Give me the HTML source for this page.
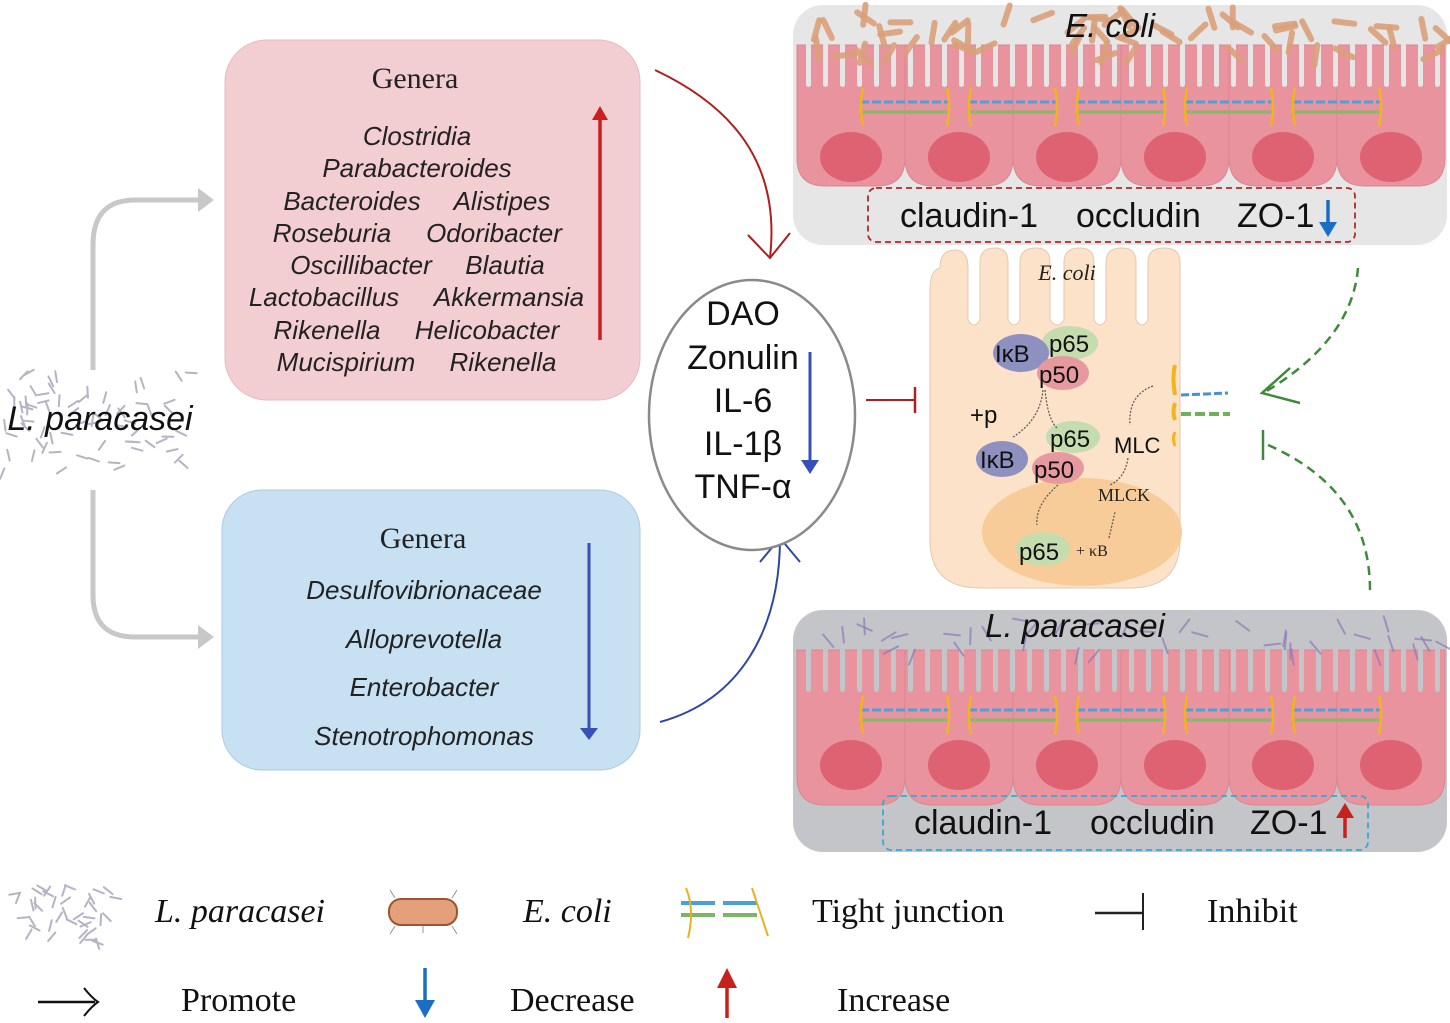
<!DOCTYPE html>
<html><head><meta charset="utf-8"><style>
html,body{margin:0;padding:0;background:#fff;}
svg{display:block;}
.s{font-family:"Liberation Sans",sans-serif;}
.r{font-family:"Liberation Serif",serif;}
</style></head><body>
<svg id="sv" width="1450" height="1023" viewBox="0 0 1450 1023" xmlns="http://www.w3.org/2000/svg">
<!-- grey arrows -->
<path d="M93,370 L93,245 Q93,200 135,200 L200,200" fill="none" stroke="#c8c8c8" stroke-width="5"/>
<path d="M198,188 L214,200 L198,212 Z" fill="#c8c8c8"/>
<path d="M93,490 L93,595 Q93,637 135,637 L200,637" fill="none" stroke="#c8c8c8" stroke-width="5"/>
<path d="M198,625 L214,637 L198,649 Z" fill="#c8c8c8"/>
<g id="lp"></g>
<text x="100" y="430" class="s" font-size="34" font-style="italic" text-anchor="middle" fill="#111">L. paracasei</text>

<!-- red box -->
<rect x="225" y="40" width="415" height="360" rx="42" fill="#f2ced3" stroke="#e7b9c0"/>
<text x="415" y="88" class="r" font-size="30" text-anchor="middle" fill="#222">Genera</text>
<g class="s" font-size="26" font-style="italic" fill="#222" text-anchor="middle">
<text x="417" y="145">Clostridia</text>
<text x="417" y="177">Parabacteroides</text>
<text x="352" y="210">Bacteroides</text><text x="502" y="210">Alistipes</text>
<text x="332" y="242">Roseburia</text><text x="494" y="242">Odoribacter</text>
<text x="361" y="274">Oscillibacter</text><text x="505" y="274">Blautia</text>
<text x="324" y="306">Lactobacillus</text><text x="509" y="306">Akkermansia</text>
<text x="327" y="339">Rikenella</text><text x="487" y="339">Helicobacter</text>
<text x="346" y="371">Mucispirium</text><text x="503" y="371">Rikenella</text>
</g>
<line x1="600" y1="340" x2="600" y2="118" stroke="#cc1e1e" stroke-width="3.5"/>
<path d="M592,120 L600,106 L608,120 Z" fill="#cc1e1e"/>

<!-- blue box -->
<rect x="222" y="490" width="418" height="280" rx="40" fill="#c7e1f2" stroke="#a9cbe2"/>
<text x="423" y="548" class="r" font-size="30" text-anchor="middle" fill="#222">Genera</text>
<g class="s" font-size="26" font-style="italic" fill="#222" text-anchor="middle">
<text x="424" y="599">Desulfovibrionaceae</text>
<text x="424" y="648">Alloprevotella</text>
<text x="424" y="696">Enterobacter</text>
<text x="424" y="745">Stenotrophomonas</text>
</g>
<line x1="589" y1="543" x2="589" y2="730" stroke="#3650b8" stroke-width="3"/>
<path d="M580,728 L589,740 L598,728 Z" fill="#3650b8"/>

<!-- curves to ellipse -->
<path d="M655,70 C740,110 780,170 770,258" fill="none" stroke="#b01e1e" stroke-width="2"/>
<path d="M748,235 L770,258 L790,233" fill="none" stroke="#b01e1e" stroke-width="2"/>
<path d="M660,722 C740,700 780,630 780,538" fill="none" stroke="#2f45a8" stroke-width="2"/>
<path d="M760,562 L780,538 L800,562" fill="none" stroke="#2f45a8" stroke-width="2"/>

<!-- ellipse -->
<ellipse cx="752" cy="415" rx="103" ry="135" fill="#fff" stroke="#8a8a8a" stroke-width="2.5"/>
<g class="s" font-size="34" fill="#111" text-anchor="middle">
<text x="743" y="325">DAO</text>
<text x="743" y="369">Zonulin</text>
<text x="743" y="412">IL-6</text>
<text x="743" y="455">IL-1β</text>
<text x="743" y="498">TNF-α</text>
</g>
<line x1="810" y1="352" x2="810" y2="462" stroke="#3650b8" stroke-width="3"/>
<path d="M801,460 L810,474 L819,460 Z" fill="#3650b8"/>

<!-- inhibit -->
<line x1="866" y1="400" x2="915" y2="400" stroke="#b01e1e" stroke-width="2"/>
<line x1="915" y1="387" x2="915" y2="413" stroke="#b01e1e" stroke-width="2.5"/>

<!-- top panel -->
<rect x="793" y="5" width="654" height="240" rx="30" fill="#e6e6e6"/>
<g id="topcells"></g>
<text x="1110" y="37" class="s" font-size="33" font-style="italic" text-anchor="middle" fill="#111">E. coli</text>
<rect x="868" y="188" width="487" height="54" rx="8" fill="none" stroke="#b02a2a" stroke-width="1.8" stroke-dasharray="6,4"/>
<text x="900" y="227" class="s" font-size="34" fill="#111">claudin-1</text>
<text x="1076" y="227" class="s" font-size="34" fill="#111">occludin</text>
<text x="1237" y="227" class="s" font-size="34" fill="#111">ZO-1</text>
<line x1="1328" y1="200" x2="1328" y2="226" stroke="#1a6fc4" stroke-width="3.5"/>
<path d="M1319,222 L1328,237 L1337,222 Z" fill="#1a6fc4"/>

<!-- bottom panel -->
<rect x="793" y="610" width="654" height="242" rx="30" fill="#c4c5c8"/>
<g id="botcells"></g>
<text x="1075" y="637" class="s" font-size="33" font-style="italic" text-anchor="middle" fill="#111">L. paracasei</text>
<rect x="883" y="796" width="485" height="54" rx="8" fill="none" stroke="#3aa6d6" stroke-width="1.8" stroke-dasharray="6,4"/>
<text x="914" y="834" class="s" font-size="34" fill="#111">claudin-1</text>
<text x="1090" y="834" class="s" font-size="34" fill="#111">occludin</text>
<text x="1250" y="834" class="s" font-size="34" fill="#111">ZO-1</text>
<line x1="1345" y1="838" x2="1345" y2="815" stroke="#c8201a" stroke-width="3.5"/>
<path d="M1336,818 L1345,803 L1354,818 Z" fill="#c8201a"/>

<!-- middle cell -->
<path d="M940,268 Q940,250 955,250 Q968,250 968,268 L968,320 Q974,330 980,320 L980,262 Q980,248 995,248 Q1008,248 1008,262 L1008,320 Q1014,330 1020,320 L1020,262 Q1020,248 1036,248 Q1050,248 1050,262 L1050,320 Q1057,330 1064,320 L1064,262 Q1064,248 1080,248 Q1094,248 1094,262 L1094,320 Q1100,330 1106,320 L1106,262 Q1106,248 1122,248 Q1136,248 1136,262 L1136,320 Q1142,330 1148,320 L1148,262 Q1148,248 1164,248 Q1180,248 1180,262 L1180,540 Q1180,588 1130,588 L980,588 Q930,588 930,540 L930,290 Q930,270 940,268 Z" fill="#fbe2c8" stroke="#e3c9ae" stroke-width="1"/>
<ellipse cx="1082" cy="532" rx="100" ry="54" fill="#f8cc98"/>
<text x="1067" y="280" class="r" font-size="22" font-style="italic" text-anchor="middle" fill="#222">E. coli</text>
<ellipse cx="1070" cy="343" rx="28" ry="17" fill="#c5dcae"/>
<ellipse cx="1021" cy="353" rx="28" ry="19" fill="#8e90c0"/>
<ellipse cx="1063" cy="373" rx="26" ry="17" fill="#e69aa0"/>
<ellipse cx="1073" cy="437" rx="27" ry="16" fill="#c5dcae"/>
<ellipse cx="1002" cy="459" rx="26" ry="18" fill="#8e90c0"/>
<ellipse cx="1058" cy="468" rx="26" ry="16" fill="#e69aa0"/>
<ellipse cx="1043" cy="549" rx="27" ry="17" fill="#c5dcae"/>
<g class="s" font-size="24" fill="#111">
<text x="1049" y="352">p65</text>
<text x="995" y="362">IκB</text>
<text x="1039" y="383">p50</text>
<text x="970" y="423">+p</text>
<text x="1050" y="447">p65</text>
<text x="980" y="468">IκB</text>
<text x="1034" y="478">p50</text>
<text x="1114" y="453" font-size="22">MLC</text>
<text x="1019" y="560">p65</text>
</g>
<text x="1098" y="501" class="r" font-size="18" fill="#222">MLCK</text>
<text x="1076" y="556" class="r" font-size="16" fill="#222">+ κB</text>
<g fill="none" stroke="#555" stroke-width="1.2" stroke-dasharray="2,1.5">
<path d="M1043,390 Q1040,420 1013,437"/>
<path d="M1045,390 Q1048,420 1057,428"/>
<path d="M1058,485 Q1035,505 1037,525"/>
<path d="M1153,386 Q1128,395 1130,425"/>
<path d="M1128,458 Q1125,478 1110,485"/>
<path d="M1109,538 L1115,512"/>
</g>
<path d="M1175,365 Q1172,378 1175,395" stroke="#f2b41c" stroke-width="4" fill="none"/>
<path d="M1175,403 Q1172,412 1175,420" stroke="#f2b41c" stroke-width="4" fill="none"/>
<path d="M1175,432 Q1172,438 1175,446" stroke="#f2b41c" stroke-width="3" fill="none"/>
<path d="M1181,395 L1228,393" stroke="#4a90d0" stroke-width="3" stroke-dasharray="8,3"/>
<path d="M1181,414 L1230,414" stroke="#6fb05a" stroke-width="4" stroke-dasharray="10,4"/>

<!-- green dashed -->
<path d="M1358,268 Q1352,340 1265,392" fill="none" stroke="#3f8a3a" stroke-width="2.5" stroke-dasharray="9,6"/>
<path d="M1290,368 L1262,393 L1300,403" fill="none" stroke="#3f8a3a" stroke-width="2.5"/>
<path d="M1370,590 Q1370,490 1268,445" fill="none" stroke="#3f8a3a" stroke-width="2.5" stroke-dasharray="9,6"/>
<line x1="1263" y1="430" x2="1263" y2="460" stroke="#3f8a3a" stroke-width="2.5"/>

<!-- legend -->
<g id="leglp"></g>
<text x="155" y="922" class="r" font-size="34" font-style="italic" fill="#111">L. paracasei</text>
<rect x="389" y="899" width="68" height="26" rx="12" fill="#e3a07a" stroke="#a0542c" stroke-width="2"/>
<g stroke="#999" stroke-width="1"><line x1="395" y1="898" x2="390" y2="890"/><line x1="452" y1="898" x2="457" y2="890"/><line x1="395" y1="926" x2="390" y2="934"/><line x1="452" y1="926" x2="457" y2="934"/><line x1="423" y1="926" x2="423" y2="933"/></g>
<text x="523" y="922" class="r" font-size="34" font-style="italic" fill="#111">E. coli</text>
<line x1="681" y1="903" x2="763" y2="903" stroke="#4aa0d8" stroke-width="4" stroke-dasharray="34,8"/>
<line x1="681" y1="915" x2="763" y2="915" stroke="#7cb56a" stroke-width="4" stroke-dasharray="34,8"/>
<path d="M686,888 Q695,910 688,938" stroke="#e8b21f" stroke-width="2" fill="none"/>
<path d="M752,888 Q760,912 768,936" stroke="#e8b21f" stroke-width="2" fill="none"/>
<text x="812" y="922" class="r" font-size="34" fill="#111">Tight junction</text>
<line x1="1095" y1="913" x2="1143" y2="913" stroke="#222" stroke-width="2.5"/>
<line x1="1143" y1="893" x2="1143" y2="930" stroke="#222" stroke-width="2"/>
<text x="1207" y="922" class="r" font-size="34" fill="#111">Inhibit</text>
<line x1="38" y1="1002" x2="95" y2="1002" stroke="#111" stroke-width="2.5"/>
<path d="M84,988 Q92,998 98,1002 Q92,1006 84,1016" fill="none" stroke="#111" stroke-width="2"/>
<text x="181" y="1011" class="r" font-size="34" fill="#111">Promote</text>
<line x1="425" y1="968" x2="425" y2="1005" stroke="#1a6fc4" stroke-width="3.5"/>
<path d="M415,1000 L425,1018 L435,1000 Z" fill="#1a6fc4"/>
<text x="510" y="1011" class="r" font-size="34" fill="#111">Decrease</text>
<line x1="727" y1="1018" x2="727" y2="985" stroke="#c8201a" stroke-width="3.5"/>
<path d="M717,988 L727,968 L737,988 Z" fill="#c8201a"/>
<text x="837" y="1011" class="r" font-size="34" fill="#111">Increase</text>
</svg>
<script>
(function(){
var NS="http://www.w3.org/2000/svg";
function el(p,t,a){var e=document.createElementNS(NS,t);for(var k in a)e.setAttribute(k,a[k]);p.appendChild(e);return e;}
var s=7;function rnd(){s=(s*9301+49297)%233280;return s/233280;}
function cells(gid,top,bottom,nucY,bg,bact){
 var g=document.getElementById(gid);var w=108,x0=797;
 for(var i=0;i<6;i++){var x=x0+i*w;
  el(g,"path",{d:"M"+x+","+top+" L"+(x+w)+","+top+" L"+(x+w)+","+(bottom-28)+" Q"+(x+w)+","+bottom+" "+(x+w-28)+","+bottom+" L"+(x+28)+","+bottom+" Q"+x+","+bottom+" "+x+","+(bottom-28)+" Z",fill:"#e8939e",stroke:"#d98791","stroke-width":1});
  el(g,"ellipse",{cx:x+w/2,cy:nucY,rx:31,ry:25,fill:"#de6272"});
 }
 for(var x=806;x<1440;x+=17){el(g,"rect",{x:x,y:top-2,width:5,height:44,rx:2.5,fill:bg});}
 for(var i=0;i<5;i++){var cx=x0+(i+1)*w;var y=nucY-55;
  el(g,"line",{x1:cx-45,y1:y,x2:cx+45,y2:y,stroke:"#4fa0d8","stroke-width":3,"stroke-dasharray":"9,3"});
  el(g,"line",{x1:cx-45,y1:y+10,x2:cx+45,y2:y+10,stroke:"#86b96e","stroke-width":3});
  el(g,"path",{d:"M"+(cx-42)+","+(y-14)+" Q"+(cx-46)+","+(y+5)+" "+(cx-42)+","+(y+24),stroke:"#f2b41c","stroke-width":2.5,fill:"none"});
  el(g,"path",{d:"M"+(cx+42)+","+(y-14)+" Q"+(cx+46)+","+(y+5)+" "+(cx+42)+","+(y+24),stroke:"#f2b41c","stroke-width":2.5,fill:"none"});
 }
 for(var k=0;k<bact.n;k++){var bx=800+rnd()*640,by=bact.y0+rnd()*bact.h,a=rnd()*180,l=bact.l;
  el(g,"rect",{x:bx,y:by,width:l,height:bact.t,rx:bact.t/2,fill:bact.c,opacity:bact.o,transform:"rotate("+a+" "+(bx+l/2)+" "+(by+2)+")"});}
}
cells("topcells",45,186,157,"#e6e6e6",{n:60,y0:12,h:45,l:26,t:6,c:"#d9a07a",o:0.9});
cells("botcells",650,805,765,"#c4c5c8",{n:40,y0:618,h:40,l:18,t:2,c:"#8a7ab8",o:0.7});
function lp(gid,cx,cy,rw,rh,n){var g=document.getElementById(gid);
 for(var k=0;k<n;k++){var x=cx+(rnd()-0.5)*rw,y=cy+(rnd()-0.5)*rh,a=rnd()*180;
  el(g,"rect",{x:x,y:y,width:13,height:2,rx:1,fill:"#b4b4c4",transform:"rotate("+a+" "+x+" "+y+")"});}}
lp("lp",95,420,180,100,70);
lp("leglp",66,910,90,60,40);
})();
</script>
</body></html>
